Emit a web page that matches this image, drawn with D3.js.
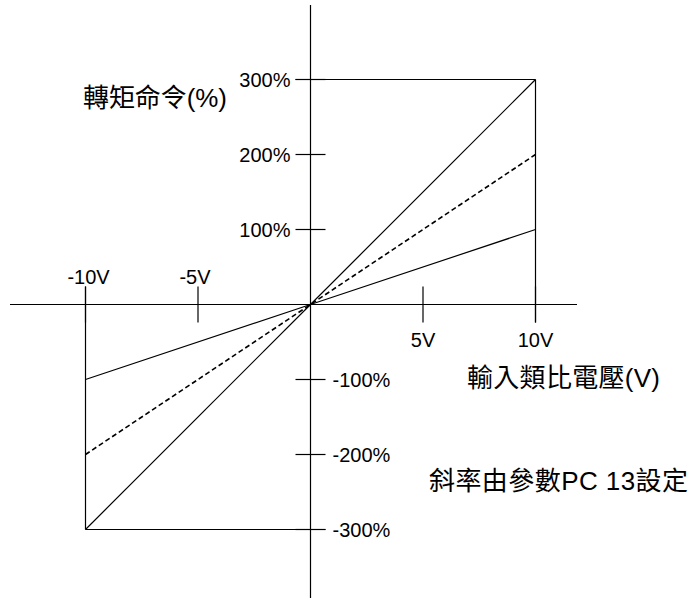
<!DOCTYPE html>
<html>
<head>
<meta charset="utf-8">
<script src="https://cdn.jsdelivr.net/npm/d3@7"></script>
<style>
  html, body { margin: 0; padding: 0; background: #fff; }
  svg { display: block; }
</style>
</head>
<body>
<svg id="chart" width="692" height="601"></svg>
<script>
// ---- data ----
const inputVolts = [-10, 0, 10];
const slopeLow = [-100, 0, 100];
const slopeMid = [-200, 0, 200];
const slopeHigh = [-300, 0, 300];
const xTickValues = [-10, -5, 5, 10];
const xTickLabels = ["-10V", "-5V", "5V", "10V"];
const yTickValues = [300, 200, 100, -100, -200, -300];
const yTickLabels = ["300%", "200%", "100%", "-100%", "-200%", "-300%"];
const yAxisTitle = "轉矩命令(%)";
const xAxisTitle = "輸入類比電壓(V)";
const noteText = "斜率由參數PC 13設定";

// ---- layout ----
const svg = d3.select("#chart");
const x = d3.scaleLinear().domain([-10, 10]).range([85.5, 535.5]);
const y = d3.scaleLinear().domain([-300, 300]).range([529.5, 79.5]);
const x0 = x(0), y0 = y(0);
const latin = "'Liberation Sans', Arial, sans-serif";
const cjk = "'Liberation Sans', 'Noto Sans CJK TC', sans-serif";
const sw = 1.2;

const g = svg.append("g").attr("stroke", "#000").attr("fill", "none").attr("stroke-width", sw);

// main axes
g.append("line").attr("x1", 10).attr("x2", 577).attr("y1", y0).attr("y2", y0);
g.append("line").attr("x1", x0).attr("x2", x0).attr("y1", 5).attr("y2", 598);

// x ticks (+/-18 px around axis)
xTickValues.forEach(v => {
  g.append("line").attr("x1", x(v)).attr("x2", x(v)).attr("y1", y0 - 18).attr("y2", y0 + 18);
});
// y ticks
yTickValues.forEach(v => {
  g.append("line").attr("x1", x0 - 15).attr("x2", x0 + 15).attr("y1", y(v)).attr("y2", y(v));
});

// bounding guides: 10V up to 300%, -10V down to -300%
g.append("line").attr("x1", x(10)).attr("x2", x(10)).attr("y1", y(300)).attr("y2", y0 + 18);
g.append("line").attr("x1", x(-10)).attr("x2", x(-10)).attr("y1", y0 - 18).attr("y2", y(-300));
g.append("line").attr("x1", x0 - 15).attr("x2", x(10)).attr("y1", y(300)).attr("y2", y(300));
g.append("line").attr("x1", x(-10)).attr("x2", x0 + 15).attr("y1", y(-300)).attr("y2", y(-300));

// slope lines
const line = d3.line().x((d, i) => x(inputVolts[i])).y(d => y(d));
g.append("path").attr("d", line(slopeHigh));
g.append("path").attr("d", line(slopeLow));
g.append("path").attr("d", line(slopeMid)).attr("stroke-width", 1.6).attr("stroke-dasharray", "5,3");

// tick labels
const t = svg.append("g").attr("fill", "#000").attr("font-family", latin).attr("font-size", 20);
xTickValues.forEach((v, i) => {
  const above = v < 0;
  t.append("text")
    .attr("x", x(v) + (v === -10 ? 3 : (v === -5 ? -3 : 0)))
    .attr("y", above ? y0 - 21 : y0 + 42)
    .attr("text-anchor", "middle")
    .text(xTickLabels[i]);
});
yTickValues.forEach((v, i) => {
  const pos = v > 0;
  t.append("text")
    .attr("x", pos ? x0 - 20 : x0 + 22)
    .attr("y", y(v) + 7.5)
    .attr("text-anchor", pos ? "end" : "start")
    .text(yTickLabels[i]);
});

// titles
const tt = svg.append("g").attr("fill", "#000").attr("font-family", cjk).attr("font-size", 26);
tt.append("text").attr("x", 83).attr("y", 107).attr("textLength", 144).attr("lengthAdjust", "spacing").text(yAxisTitle);
tt.append("text").attr("x", 467).attr("y", 387).attr("textLength", 193).attr("lengthAdjust", "spacing").text(xAxisTitle);
tt.append("text").attr("x", 429).attr("y", 490).attr("textLength", 259).attr("lengthAdjust", "spacing").text(noteText);
</script>
</body>
</html>
